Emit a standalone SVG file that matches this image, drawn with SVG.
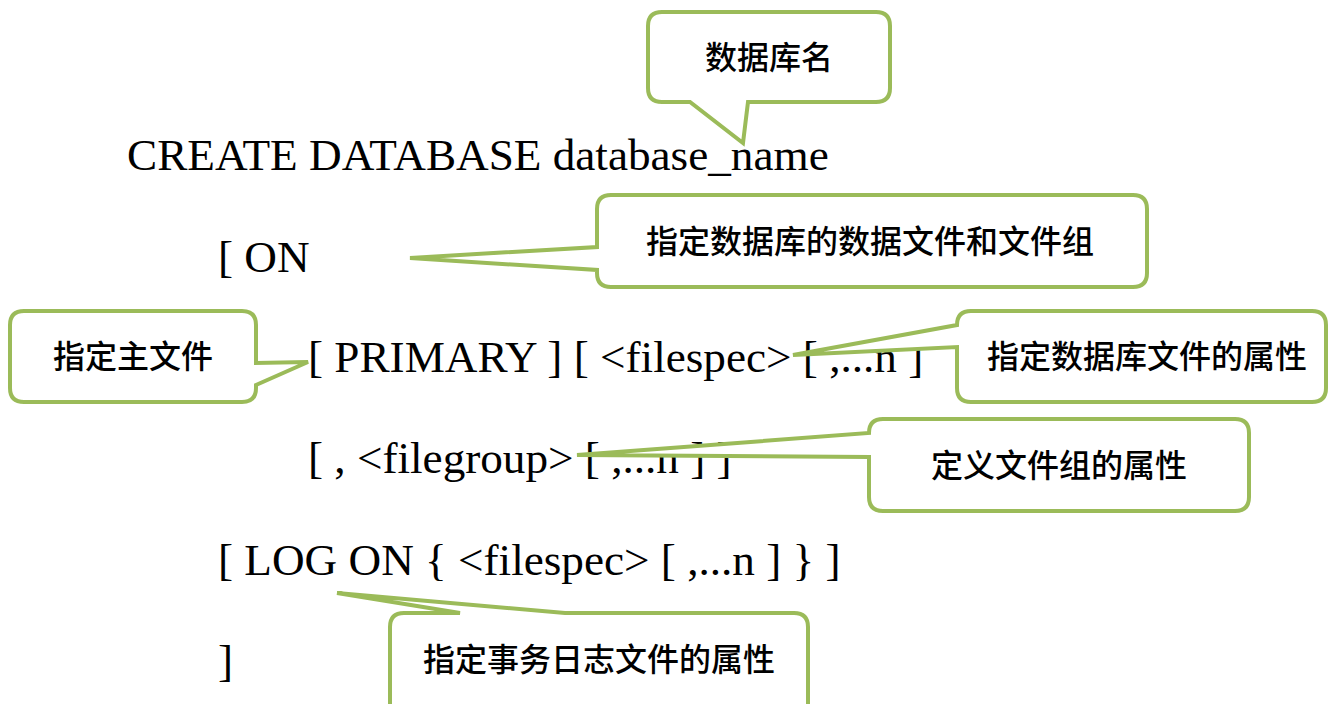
<svg xmlns="http://www.w3.org/2000/svg" width="1329" height="704" viewBox="0 0 1329 704">
<style>
.code{font-family:"Liberation Serif","Times New Roman",serif;font-size:45.2px;fill:#000}
.co{fill:#fff;stroke:#9bbb59;stroke-width:4;stroke-linejoin:miter}
.lbl{font-family:"Noto Sans CJK SC","Noto Sans",sans-serif;font-size:32px;font-weight:500;fill:#000;text-anchor:middle}
</style>
<rect width="1329" height="704" fill="#fff"/>
<g id="code">
<text class="code" x="127" y="170">CREATE DATABASE database_name</text>
<text class="code" x="218" y="272">[ ON</text>
<text class="code" x="308" y="372">[ PRIMARY ] [ &lt;filespec&gt; [ ,...n ]</text>
<text class="code" x="308" y="473">[ , &lt;filegroup&gt; [ ,...n ] ]</text>
<text class="code" x="218" y="575">[ LOG ON { &lt;filespec&gt; [ ,...n ] } ]</text>
<text class="code" x="218" y="676">]</text>
</g>
<g id="connectors"></g>
<g id="callout-dbname">
<path class="co" d="M662,12 H876 Q890,12 890,26 V88 Q890,102 876,102 H748 L743,143 L690,102 H662 Q648,102 648,88 V26 Q648,12 662,12 Z"/>
<text class="lbl" x="769" y="69">数据库名</text>
</g>
<g id="callout-on">
<path class="co" d="M611,195 H1133 Q1147,195 1147,209 V273 Q1147,287 1133,287 H611 Q597,287 597,273 V270 L410,258 L597,247 V209 Q597,195 611,195 Z"/>
<text class="lbl" x="870" y="253">指定数据库的数据文件和文件组</text>
</g>
<g id="callout-primary">
<path class="co" d="M24,311 H242 Q256,311 256,325 V363 L308,362 L256,385 V388 Q256,402 242,402 H24 Q10,402 10,388 V325 Q10,311 24,311 Z"/>
<text class="lbl" x="133" y="368">指定主文件</text>
</g>
<g id="callout-filespec">
<path class="co" d="M971,311 H1312 Q1326,311 1326,325 V388 Q1326,402 1312,402 H971 Q957,402 957,388 V347 L793,355 L957,325 Q957,311 971,311 Z"/>
<text class="lbl" x="1147" y="368">指定数据库文件的属性</text>
</g>
<g id="callout-filegroup">
<path class="co" d="M883,419 H1235 Q1249,419 1249,433 V497 Q1249,511 1235,511 H883 Q869,511 869,497 V457 L577,455 L869,433 Q869,419 883,419 Z"/>
<text class="lbl" x="1059" y="477">定义文件组的属性</text>
</g>
<g id="callout-log">
<path class="co" d="M404,613 H460 L337,593 L565,613 H794 Q808,613 808,627 V720 H390 V627 Q390,613 404,613 Z"/>
<text class="lbl" x="599" y="671">指定事务日志文件的属性</text>
</g>
</svg>
